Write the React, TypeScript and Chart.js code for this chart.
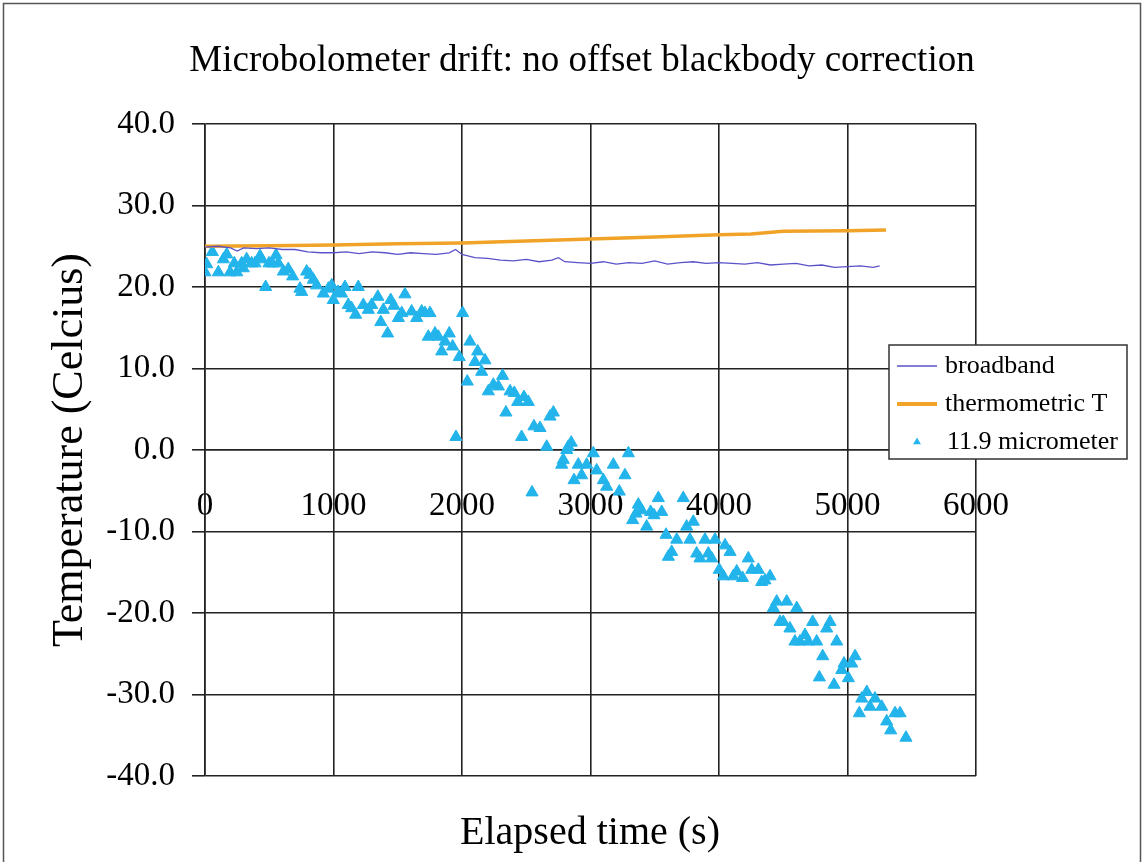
import React, { useEffect, useRef } from "react";
import { Chart, registerables } from "chart.js";

Chart.register(...registerables);

const FONT = "'Liberation Serif', 'Times New Roman', serif";

const chartTitle = "Microbolometer drift: no offset blackbody correction";
const xAxisTitle = "Elapsed time (s)";
const yAxisTitle = "Temperature (Celcius)";
const seriesNames = ["broadband", "thermometric T", "11.9 micrometer"];

const xTickValues = [0, 1000, 2000, 3000, 4000, 5000, 6000];
const yTickValues = [-40, -30, -20, -10, 0, 10, 20, 30, 40];

const thermoTime = [0, 500, 1000, 1500, 2000, 2500, 3000, 3500, 4000, 4250, 4500, 5000, 5300];
const thermoTemp = [25.0, 25.05, 25.15, 25.3, 25.4, 25.65, 25.9, 26.15, 26.4, 26.5, 26.85, 26.9, 27.0];

const broadTime = [
  0, 100, 200, 250, 300, 400, 500, 600, 700, 800, 900, 1000, 1100, 1200, 1300, 1400, 1500, 1600, 1700,
  1800, 1900, 1950, 2000, 2100, 2200, 2300, 2400, 2500, 2600, 2700, 2750, 2800, 2900, 3000, 3100, 3200,
  3300, 3400, 3500, 3600, 3700, 3800, 3900, 4000, 4100, 4200, 4300, 4400, 4500, 4600, 4700, 4800, 4900,
  5000, 5100, 5200, 5250,
];
const broadTemp = [
  24.9, 25.0, 24.8, 24.4, 24.8, 24.7, 24.8, 24.6, 24.6, 24.3, 24.2, 24.2, 24.3, 24.1, 24.3, 24.2, 24.0, 24.2, 24.1,
  24.0, 24.2, 24.6, 24.0, 23.6, 23.5, 23.3, 23.2, 23.4, 23.1, 23.3, 23.6, 23.1, 23.0, 22.9, 23.1, 22.8,
  23.0, 22.9, 23.2, 22.8, 23.0, 23.1, 22.9, 23.0, 22.9, 22.8, 23.0, 22.7, 22.8, 22.9, 22.6, 22.7, 22.4,
  22.5, 22.6, 22.4, 22.6,
];

const microTime = [
  0, 13, 57, 104, 143, 169, 195, 228, 247, 285, 298, 324, 363, 389, 428, 441, 472, 498, 524, 553, 571, 610,
  648, 682, 739, 752, 791, 817, 843, 869, 921, 960, 986, 998, 1037, 1063, 1089, 1115, 1141, 1172, 1193, 1232,
  1271, 1297, 1345, 1368, 1388, 1421, 1445, 1470, 1505, 1531, 1556, 1608, 1647, 1686, 1712, 1738, 1751, 1790,
  1816, 1842, 1868, 1901, 1927, 1953, 1979, 2005, 2041, 2062, 2101, 2122, 2153, 2179, 2205, 2244, 2283, 2316,
  2342, 2374, 2407, 2433, 2464, 2482, 2516, 2545, 2560, 2607, 2659, 2685, 2711, 2776, 2788, 2815, 2827, 2850,
  2872, 2905, 2931, 2970, 3022, 3048, 3100, 3126, 3178, 3224, 3268, 3295, 3328, 3354, 3372, 3398, 3437, 3468,
  3494, 3528, 3554, 3588, 3606, 3632, 3671, 3722, 3748, 3774, 3800, 3826, 3852, 3891, 3917, 3943, 3969, 4002,
  4034, 4047, 4086, 4111, 4138, 4183, 4228, 4255, 4306, 4332, 4358, 4397, 4423, 4449, 4475, 4500, 4527, 4552,
  4591, 4605, 4630, 4669, 4695, 4729, 4760, 4781, 4807, 4838, 4864, 4895, 4916, 4955, 4973, 5007, 5033, 5059,
  5092, 5111, 5150, 5175, 5214, 5266, 5305, 5336, 5370, 5409, 5455,
];
const microTemp = [
  21.8, 22.8, 24.3, 21.8, 23.4, 24.0, 21.8, 22.9, 21.8, 22.9, 22.3, 23.4, 22.9, 22.9, 23.8, 23.4, 20.0, 22.9, 22.9, 23.9, 22.9, 21.9,
  22.2, 21.3, 19.8, 19.4, 21.9, 21.5, 20.9, 20.2, 19.2, 19.8, 20.2, 18.4, 19.4, 19.2, 20.0, 17.8, 17.4, 16.6, 20.0, 17.8,
  17.2, 17.8, 18.8, 15.7, 17.2, 14.3, 18.4, 17.7, 16.2, 16.8, 19.1, 17.0, 16.2, 17.0, 16.8, 13.9, 16.8, 14.3,
  13.9, 12.1, 13.3, 14.3, 12.7, 1.6, 11.4, 16.8, 8.4, 13.3, 10.8, 12.1, 9.6, 11.0, 7.2, 8.0, 7.8, 9.1,
  4.6, 7.2, 7.0, 5.9, 1.6, 6.5, 5.9, -5.2, 2.9, 2.7, 0.4, 4.1, 4.6, -1.8, -1.2, 0.0, 0.4, 0.9,
  -3.7, -1.8, -3.1, -1.8, -0.4, -2.5, -3.7, -4.5, -1.8, -5.1, -3.1, -0.4, -8.6, -7.8, -6.7, -7.4, -9.4, -7.6,
  -8.0, -5.9, -7.6, -10.4, -13.1, -12.5, -11.0, -5.9, -9.4, -11.0, -8.8, -12.7, -13.3, -11.0, -12.7, -13.3, -11.0, -14.7,
  -15.5, -11.7, -12.5, -15.5, -14.9, -15.7, -13.3, -14.7, -14.7, -16.2, -16.0, -15.5, -19.4, -18.6, -21.1, -21.1, -18.6, -21.9,
  -23.5, -19.4, -23.5, -22.7, -23.5, -21.1, -23.5, -27.9, -25.3, -21.9, -21.1, -28.8, -23.5, -27.0, -26.2, -28.0, -26.2, -25.3,
  -32.3, -30.5, -29.7, -31.5, -30.5, -31.5, -33.3, -34.4, -32.3, -32.3, -35.3,
];

const BROAD_COLOR = "#5b52c9";
const THERMO_COLOR = "#f0a328";
const MICRO_COLOR = "#22b4ea";
const GRID_COLOR = "#222222";

const toPoints = (xs: number[], ys: number[]) => xs.map((x, i) => ({ x, y: ys[i] }));

const decorPlugin = {
  id: "decor",
  afterDraw(chart: any) {
    const ctx = chart.ctx as CanvasRenderingContext2D;
    ctx.save();
    // outer frame
    ctx.strokeStyle = "#555";
    ctx.lineWidth = 1.5;
    ctx.beginPath();
    ctx.moveTo(3.5, 870);
    ctx.lineTo(3.5, 3.5);
    ctx.lineTo(1140.5, 3.5);
    ctx.lineTo(1140.5, 870);
    ctx.stroke();

    ctx.fillStyle = "#000";
    ctx.textAlign = "center";
    ctx.textBaseline = "alphabetic";
    ctx.font = `37px ${FONT}`;
    ctx.fillText(chartTitle, 582, 71);

    ctx.font = `40px ${FONT}`;
    ctx.fillText(xAxisTitle, 590, 844);

    // legend
    const lx = 889, ly = 345, lw = 238, lh = 114;
    ctx.fillStyle = "#fff";
    ctx.fillRect(lx, ly, lw, lh);
    ctx.strokeStyle = "#333";
    ctx.lineWidth = 1.5;
    ctx.strokeRect(lx, ly, lw, lh);

    const rows = [366, 404, 442];
    ctx.lineCap = "butt";
    ctx.strokeStyle = BROAD_COLOR;
    ctx.lineWidth = 1.5;
    ctx.beginPath();
    ctx.moveTo(897, rows[0]);
    ctx.lineTo(937, rows[0]);
    ctx.stroke();
    ctx.strokeStyle = THERMO_COLOR;
    ctx.lineWidth = 4;
    ctx.beginPath();
    ctx.moveTo(897, rows[1]);
    ctx.lineTo(937, rows[1]);
    ctx.stroke();
    ctx.fillStyle = MICRO_COLOR;
    const r = 4.5;
    ctx.beginPath();
    ctx.moveTo(917, rows[2] - r);
    ctx.lineTo(917 + r * 0.866, rows[2] + r / 2);
    ctx.lineTo(917 - r * 0.866, rows[2] + r / 2);
    ctx.closePath();
    ctx.fill();

    ctx.fillStyle = "#000";
    ctx.textAlign = "left";
    ctx.textBaseline = "middle";
    ctx.font = `26px ${FONT}`;
    ctx.fillText(seriesNames[0], 945, rows[0]);
    ctx.fillText(seriesNames[1], 945, rows[1]);
    ctx.fillText(seriesNames[2], 947, rows[2]);
    ctx.restore();
  },
};

export default function App() {
  const ref = useRef<HTMLCanvasElement | null>(null);

  useEffect(() => {
    document.body.style.margin = "0";
    const canvas = ref.current;
    if (!canvas) return;
    const chart = new Chart(canvas, {
      type: "scatter",
      data: {
        datasets: [
          {
            label: seriesNames[0],
            data: toPoints(broadTime, broadTemp),
            showLine: true,
            borderColor: BROAD_COLOR,
            borderWidth: 1.3,
            pointRadius: 0,
            tension: 0,
          },
          {
            label: seriesNames[1],
            data: toPoints(thermoTime, thermoTemp),
            showLine: true,
            borderColor: THERMO_COLOR,
            borderWidth: 3.5,
            pointRadius: 0,
            tension: 0,
          },
          {
            label: seriesNames[2],
            data: toPoints(microTime, microTemp),
            showLine: false,
            pointStyle: "triangle",
            pointRadius: 7,
            backgroundColor: MICRO_COLOR,
            borderColor: MICRO_COLOR,
            borderWidth: 1,
          },
        ],
      },
      options: {
        responsive: false,
        animation: false,
        devicePixelRatio: 1,
        layout: { padding: { top: 124, right: 167, bottom: 86, left: 0 } },
        plugins: {
          legend: { display: false },
          title: { display: false },
          tooltip: { enabled: false },
        },
        scales: {
          x: {
            type: "linear",
            position: { y: 0 } as any,
            min: 0,
            max: 6000,
            afterBuildTicks: (s: any) => {
              s.ticks = xTickValues.map((v) => ({ value: v }));
            },
            ticks: {
              callback: (v: any) => String(v),
              color: "#000",
              font: { family: FONT, size: 33 },
              padding: 37,
              maxRotation: 0,
              autoSkip: false,
            },
            grid: { color: GRID_COLOR, lineWidth: 1.6, drawTicks: false },
            border: { color: GRID_COLOR, width: 1.6 },
          },
          y: {
            type: "linear",
            position: "left",
            min: -40,
            max: 40,
            afterBuildTicks: (s: any) => {
              s.ticks = yTickValues.map((v) => ({ value: v }));
            },
            afterFit: (s: any) => {
              s.width = 205;
            },
            ticks: {
              callback: (v: any) => Number(v).toFixed(1),
              color: "#000",
              font: { family: FONT, size: 33 },
              padding: 17,
            },
            grid: { color: GRID_COLOR, lineWidth: 1.6, tickLength: 13 },
            border: { color: GRID_COLOR, width: 1.6 },
            title: {
              display: true,
              text: yAxisTitle,
              color: "#000",
              font: { family: FONT, size: 44 },
              padding: { top: 44, bottom: 0 },
            },
          },
        },
      },
      plugins: [decorPlugin],
    });
    return () => chart.destroy();
  }, []);

  return (
    <div style={{ position: "absolute", left: 0, top: 0, width: 1143, height: 862, background: "#fff" }}>
      <canvas ref={ref} width={1143} height={862} />
    </div>
  );
}
